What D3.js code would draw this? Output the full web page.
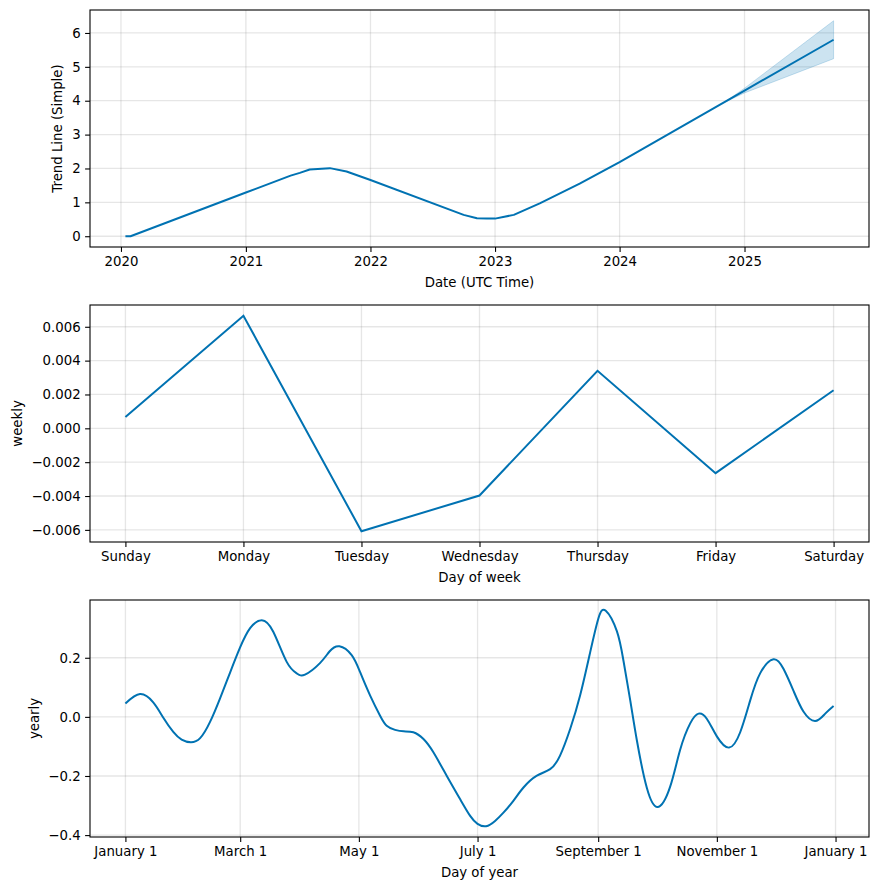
<!DOCTYPE html>
<html>
<head>
<meta charset="utf-8">
<script src="https://cdn.jsdelivr.net/npm/d3@7"></script>
<style>
  html, body { margin: 0; padding: 0; background: #fff; }
  svg { display: block; font-family: "DejaVu Sans", sans-serif; }
</style>
</head>
<body>
<svg id="chart" width="878" height="890"></svg>
<script>
// ---------- DATA ----------
// Trend (Simple)
const trendDates = ["2020-01-14","2020-01-29","2021-01-01","2021-05-12","2021-06-08","2021-07-07","2021-09-04","2021-10-23","2022-01-01","2022-10-01","2022-11-09","2022-12-08","2023-01-01","2023-02-25","2023-05-12","2023-09-06","2024-01-01","2025-01-01","2025-09-19"];
const trendValues = [0.00,0.00,1.29,1.79,1.87,1.97,2.01,1.91,1.66,0.63,0.53,0.52,0.52,0.63,0.97,1.55,2.19,4.30,5.80];
// Uncertainty band (forecast part)
const bandDates = ["2024-11-01","2025-01-01","2025-09-19"];
const bandLower = [3.94,4.23,5.24];
const bandUpper = [3.94,4.37,6.36];
const trendTicks = ["2020","2021","2022","2023","2024","2025"];

// Weekly
const weekDays = ["Sunday","Monday","Tuesday","Wednesday","Thursday","Friday","Saturday"];
const weeklyValues = [0.00067,0.00665,-0.00608,-0.00397,0.00340,-0.00265,0.00225];

// Yearly (day offset from Jan 1, value)
const yearlyDays = [0,7.5,14.3,19.5,24.6,28.9,33.6,38.4,43.5,48.6,53.8,58.9,64.1,70.1,76.0,82.9,88.1,92.3,100,105,110,116.3,120.6,125.8,130.9,134.3,138.6,143,148,153.2,158.3,165.2,172,177.2,181,185.4,190,194.3,199.4,204.6,211.5,218.3,223.4,228.6,233.7,238.9,243.1,246.9,252.6,256,259.5,262.9,268,273.7,280,285.1,290.3,294.6,298.9,304,310.3,316,321.1,326.3,333.1,338.3,343.4,348.5,354.5,359.7,364];
const yearlyValues = [0.045,0.077,0.049,-0.003,-0.051,-0.077,-0.086,-0.072,-0.017,0.062,0.150,0.234,0.300,0.327,0.288,0.186,0.147,0.143,0.182,0.222,0.239,0.209,0.152,0.072,0.004,-0.030,-0.044,-0.049,-0.052,-0.075,-0.12,-0.2,-0.278,-0.335,-0.362,-0.370,-0.352,-0.324,-0.284,-0.239,-0.199,-0.177,-0.131,-0.041,0.072,0.219,0.333,0.359,0.290,0.19,0.055,-0.08,-0.24,-0.305,-0.236,-0.112,-0.022,0.011,-0.007,-0.066,-0.104,-0.052,0.055,0.148,0.195,0.162,0.088,0.018,-0.014,0.011,0.037];
const yearlyTickLabels = ["January 1","March 1","May 1","July 1","September 1","November 1","January 1"];
const yearlyTickDates = ["2017-01-01","2017-03-01","2017-05-01","2017-07-01","2017-09-01","2017-11-01","2018-01-01"];

// ---------- LAYOUT ----------
const svg = d3.select("#chart");
const L = 90, W = 779, H = 237;
const tops = [10, 305, 600];
const LINE = "#0072B2";
const FS = "13.3px";
const parse = d3.utcParse("%Y-%m-%d");

function pad(ext) { const a = +ext[0], b = +ext[1], r = b - a; return [a - r * 0.05, b + r * 0.05]; }

function panel(top, x, y, xTickVals, xFmt, yTickVals, yFmt, xLabel, yLabel, yLabelX) {
  const g = svg.append("g").attr("transform", `translate(0,${top})`);
  // grid
  const grid = g.append("g");
  grid.selectAll("line.v").data(xTickVals).join("line")
    .attr("x1", d => x(d)).attr("x2", d => x(d)).attr("y1", 0).attr("y2", H)
    .attr("stroke", "gray").attr("stroke-opacity", 0.2).attr("stroke-width", 1.3);
  grid.selectAll("line.h").data(yTickVals).join("line")
    .attr("x1", L).attr("x2", L + W).attr("y1", d => y(d)).attr("y2", d => y(d))
    .attr("stroke", "gray").attr("stroke-opacity", 0.2).attr("stroke-width", 1.3);
  const content = g.append("g");
  // axes
  const xa = g.append("g").attr("transform", `translate(0,${H})`)
    .call(d3.axisBottom(x).tickValues(xTickVals).tickFormat(xFmt).tickSizeOuter(0).tickSize(4.9).tickPadding(4.5));
  const ya = g.append("g").attr("transform", `translate(${L},0)`)
    .call(d3.axisLeft(y).tickValues(yTickVals).tickFormat(yFmt).tickSizeOuter(0).tickSize(4.9).tickPadding(4.5));
  [xa, ya].forEach(a => {
    a.select(".domain").remove();
    a.selectAll(".tick line").attr("stroke", "#000").attr("stroke-width", 1.1);
    a.selectAll(".tick text").attr("font-size", FS).attr("fill", "#000").attr("font-family", "DejaVu Sans");
  });
  g.append("rect").attr("x", L).attr("y", 0).attr("width", W).attr("height", H)
    .attr("fill", "none").attr("stroke", "#000").attr("stroke-width", 1.1);
  g.append("text").attr("x", L + W / 2).attr("y", H + 40).attr("text-anchor", "middle")
    .attr("font-size", FS).attr("fill", "#000").text(xLabel);
  g.append("text").attr("transform", `translate(${yLabelX},${H / 2}) rotate(-90)`)
    .attr("text-anchor", "middle").attr("dominant-baseline", "central")
    .attr("font-size", FS).attr("fill", "#000").text(yLabel);
  return content;
}

// ---------- PANEL 1: Trend ----------
{
  const dates = trendDates.map(parse);
  const x = d3.scaleUtc().domain(pad(d3.extent(dates)).map(v => new Date(v))).range([L, L + W]);
  const y = d3.scaleLinear().domain(pad([Math.min(d3.min(trendValues), d3.min(bandLower)), Math.max(d3.max(trendValues), d3.max(bandUpper))])).range([H, 0]);
  const c = panel(tops[0], x, y, trendTicks.map(t => parse(t + "-01-01")), d3.utcFormat("%Y"),
    [0,1,2,3,4,5,6], d3.format("d"), "Date (UTC Time)", "Trend Line (Simple)", 57);
  const band = bandDates.map((d, i) => ({ d: parse(d), lo: bandLower[i], hi: bandUpper[i] }));
  c.append("path").datum(band)
    .attr("d", d3.area().x(d => x(d.d)).y0(d => y(d.lo)).y1(d => y(d.hi)))
    .attr("fill", LINE).attr("fill-opacity", 0.2).attr("stroke", LINE).attr("stroke-opacity", 0.2).attr("stroke-width", 1);
  c.append("path").datum(dates.map((d, i) => [d, trendValues[i]]))
    .attr("d", d3.line().x(d => x(d[0])).y(d => y(d[1])))
    .attr("fill", "none").attr("stroke", LINE).attr("stroke-width", 2).attr("stroke-linejoin", "round");
}

// ---------- PANEL 2: Weekly ----------
{
  const idx = weekDays.map((d, i) => i);
  const x = d3.scaleLinear().domain(pad([0, weekDays.length - 1])).range([L, L + W]);
  const y = d3.scaleLinear().domain(pad(d3.extent(weeklyValues))).range([H, 0]);
  const c = panel(tops[1], x, y, idx, i => weekDays[i],
    [-0.006,-0.004,-0.002,0,0.002,0.004,0.006], d3.format(".3f"), "Day of week", "weekly", 17);
  c.append("path").datum(idx.map(i => [i, weeklyValues[i]]))
    .attr("d", d3.line().x(d => x(d[0])).y(d => y(d[1])))
    .attr("fill", "none").attr("stroke", LINE).attr("stroke-width", 2);
}

// ---------- PANEL 3: Yearly ----------
{
  const base = parse("2017-01-01");
  const dates = yearlyDays.map(d => new Date(base.getTime() + d * 86400000));
  const x = d3.scaleUtc().domain(pad(d3.extent(dates)).map(v => new Date(v))).range([L, L + W]);
  const y = d3.scaleLinear().domain(pad(d3.extent(yearlyValues))).range([H, 0]);
  const tickDates = yearlyTickDates.map(parse);
  const c = panel(tops[2], x, y, tickDates, (d, i) => yearlyTickLabels[i],
    [-0.4,-0.2,0,0.2], d3.format(".1f"), "Day of year", "yearly", 34);
  c.append("path").datum(dates.map((d, i) => [d, yearlyValues[i]]))
    .attr("d", d3.line().x(d => x(d[0])).y(d => y(d[1])).curve(d3.curveNatural))
    .attr("fill", "none").attr("stroke", LINE).attr("stroke-width", 2);
}
</script>
</body>
</html>
